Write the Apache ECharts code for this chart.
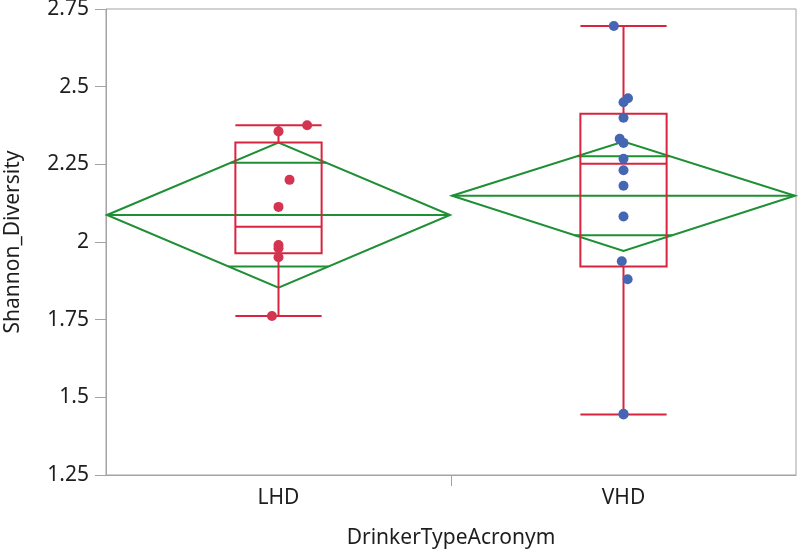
<!DOCTYPE html>
<html>
<head>
<meta charset="utf-8">
<script src="https://cdn.jsdelivr.net/npm/echarts@6/dist/echarts.min.js"></script>
<style>html,body{margin:0;padding:0;background:#fff}#c{width:800px;height:554px}</style>
</head>
<body>
<div id="c"></div>
<script>
// ---- data ----
const categories = ['LHD', 'VHD'];
const yTicks = [1.25, 1.5, 1.75, 2, 2.25, 2.5, 2.75];

// individual observations (value) and their horizontal jitter (fraction of category width)
const lhdValues = [2.376, 2.356, 2.200, 2.113, 1.990, 1.980, 1.951, 1.762];
const lhdJitter = [0.083, 0.000, 0.032, 0.000, 0.000, 0.000, 0.000, -0.019];
const vhdValues = [2.695, 2.463, 2.450, 2.400, 2.332, 2.319, 2.268, 2.231, 2.181, 2.082, 1.938, 1.880, 1.447, 1.445];
const vhdJitter = [-0.028, 0.013, 0.000, 0.000, -0.011, 0.000, 0.000, 0.000, 0.000, 0.000, -0.005, 0.012, 0.000, 0.000];

// box plot statistics per category: [lower whisker, Q1, median, Q3, upper whisker]
const boxLHD = [1.762, 1.964, 2.049, 2.320, 2.376];
const boxVHD = [1.445, 1.921, 2.252, 2.413, 2.695];

// means diamonds per category: [lower CI, lower overlap mark, mean, upper overlap mark, upper CI]
const diamondLHD = [1.853, 1.921, 2.087, 2.255, 2.320];
const diamondVHD = [1.971, 2.022, 2.149, 2.276, 2.323];

// ---- chart ----
const RED = '#d8243f';
const GREEN = '#1e8f34';
const BLUE = '#4466b3';
const PTRED = '#d43450';
const AXIS = '#a3a3a3';
const TXT = '#1e1e1e';
const FONT = 'Noto Sans';
const FS = 21;

const boxData = [[0].concat(boxLHD), [1].concat(boxVHD)];
const diamondData = [[0].concat(diamondLHD), [1].concat(diamondVHD)];
const lhdPts = lhdValues.map((v, i) => [0.5 + lhdJitter[i], v]);
const vhdPts = vhdValues.map((v, i) => [1.5 + vhdJitter[i], v]);
const catCenters = categories.map((c, i) => i + 0.5);
const catBoundaries = [1];

const BOX_W = 0.25;

function renderBox(params, api) {
  const c = api.value(0);
  const lo = api.value(1), q1 = api.value(2), med = api.value(3), q3 = api.value(4), hi = api.value(5);
  const xl = api.coord([c + 0.5 - BOX_W / 2, 0])[0];
  const xr = api.coord([c + 0.5 + BOX_W / 2, 0])[0];
  const xm = api.coord([c + 0.5, 0])[0];
  const y = v => api.coord([0, v])[1];
  const st = { stroke: RED, lineWidth: 2, fill: null };
  return {
    type: 'group',
    children: [
      { type: 'rect', shape: { x: xl, y: y(q3), width: xr - xl, height: y(q1) - y(q3) }, style: st },
      { type: 'line', shape: { x1: xl, y1: y(med), x2: xr, y2: y(med) }, style: st },
      { type: 'line', shape: { x1: xm, y1: y(q3), x2: xm, y2: y(hi) }, style: st },
      { type: 'line', shape: { x1: xm, y1: y(q1), x2: xm, y2: y(lo) }, style: st },
      { type: 'line', shape: { x1: xl, y1: y(hi), x2: xr, y2: y(hi) }, style: st },
      { type: 'line', shape: { x1: xl, y1: y(lo), x2: xr, y2: y(lo) }, style: st }
    ]
  };
}

function renderDiamond(params, api) {
  const c = api.value(0);
  const lo = api.value(1), olo = api.value(2), mean = api.value(3), ohi = api.value(4), hi = api.value(5);
  const xl = api.coord([c, 0])[0] + 1;
  const xr = api.coord([c + 1, 0])[0] - 1;
  const xm = (xl + xr) / 2;
  const half = (xr - xl) / 2;
  const y = v => api.coord([0, v])[1];
  const st = { stroke: GREEN, lineWidth: 2, fill: null };
  const hw = v => half * (1 - Math.abs(v - mean) / (v > mean ? (hi - mean) : (mean - lo)));
  return {
    type: 'group',
    children: [
      { type: 'polygon', shape: { points: [[xl, y(mean)], [xm, y(hi)], [xr, y(mean)], [xm, y(lo)]] }, style: st },
      { type: 'line', shape: { x1: xl, y1: y(mean), x2: xr, y2: y(mean) }, style: st },
      { type: 'line', shape: { x1: xm - hw(ohi), y1: y(ohi), x2: xm + hw(ohi), y2: y(ohi) }, style: st },
      { type: 'line', shape: { x1: xm - hw(olo), y1: y(olo), x2: xm + hw(olo), y2: y(olo) }, style: st }
    ]
  };
}

const chart = echarts.init(document.getElementById('c'), null, { renderer: 'canvas' });
chart.setOption({
  animation: false,
  textStyle: { fontFamily: FONT },
  grid: { left: 106, right: 4, top: 9, bottom: 79, outerBoundsMode: 'none', containLabel: false,
          show: true, borderColor: AXIS, borderWidth: 1 },
  xAxis: {
    type: 'value', min: 0, max: 2,
    name: 'DrinkerTypeAcronym', nameLocation: 'middle', nameGap: 53,
    nameTextStyle: { fontSize: FS, color: TXT, fontFamily: FONT },
    axisLine: { show: true, lineStyle: { color: AXIS, width: 1 } },
    axisTick: { show: true, length: 11, lineStyle: { color: AXIS }, customValues: catBoundaries },
    axisLabel: {
      fontSize: FS, color: TXT, margin: 13, fontFamily: FONT,
      customValues: catCenters,
      formatter: v => categories[Math.floor(v)] || ''
    },
    splitLine: { show: false }
  },
  yAxis: {
    type: 'value', min: 1.25, max: 2.75, interval: 0.25,
    name: 'Shannon_Diversity', nameLocation: 'middle', nameGap: 82,
    nameTextStyle: { fontSize: FS, color: TXT, fontFamily: FONT },
    axisLine: { show: true, lineStyle: { color: AXIS, width: 1 } },
    axisTick: { show: true, length: 11, lineStyle: { color: AXIS } },
    axisLabel: {
      fontSize: FS, color: TXT, margin: 17, fontFamily: FONT,
      formatter: v => (yTicks.some(t => Math.abs(t - v) < 1e-9) ? String(+v.toFixed(2)) : '')
    },
    splitLine: { show: false }
  },
  series: [
    { type: 'custom', renderItem: renderDiamond, data: diamondData, z: 2, silent: true },
    { type: 'custom', renderItem: renderBox, data: boxData, z: 3, silent: true },
    { type: 'scatter', data: lhdPts, symbolSize: 10, itemStyle: { color: PTRED, opacity: 1 }, z: 4 },
    { type: 'scatter', data: vhdPts, symbolSize: 10, itemStyle: { color: BLUE, opacity: 1 }, z: 4 }
  ]
});
</script>
</body>
</html>
